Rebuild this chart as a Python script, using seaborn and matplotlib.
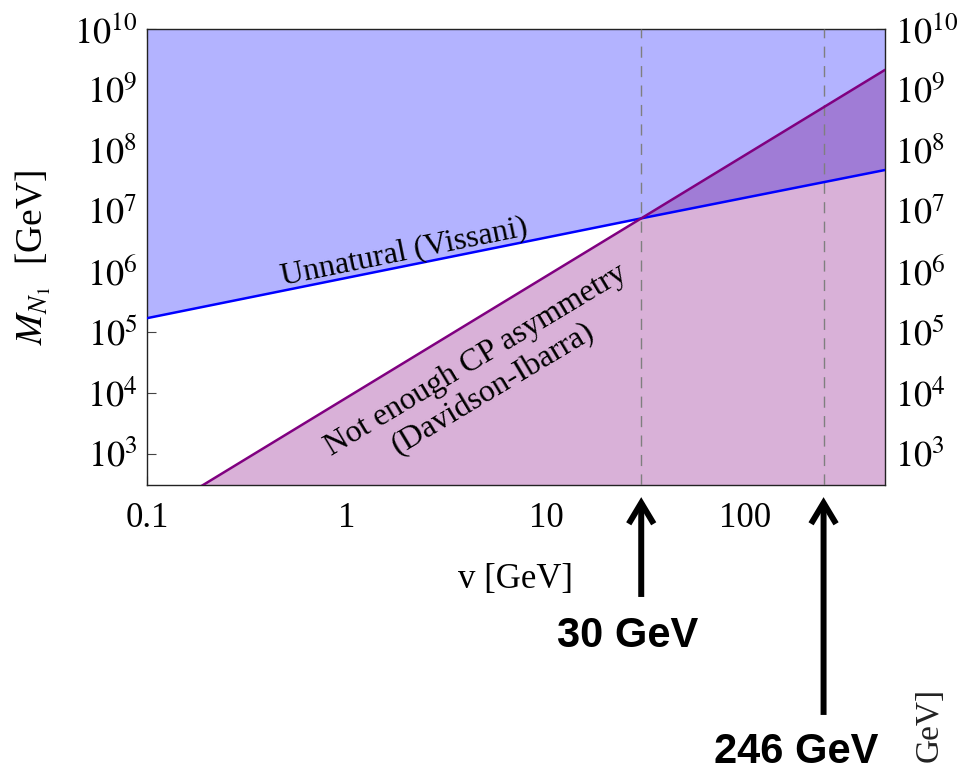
import matplotlib
matplotlib.use("Agg")
import matplotlib.pyplot as plt
import seaborn as sns
import pandas as pd

# Boundary lines (v in GeV, M_N1 in GeV), straight in log-log space
vissani_v = [0.1, 30.0, 500.0]
vissani_M = [1.7e5, 7.5e6, 4.7e7]
di_v = [0.1, 30.0, 500.0]
di_M = [83.0, 7.5e6, 2.1e9]

# Reference scales marked on the plot
marked_v = [30.0, 246.0]
marked_labels = ["30 GeV", "246 GeV"]

# Axis ticks
x_ticks = [0.1, 1, 10, 100]
x_ticklabels = ["0.1", "1", "10", "100"]
y_exponents = [3, 4, 5, 6, 7, 8, 9, 10]

x_limits = (0.1, 500.0)
y_limits = (300.0, 1e10)

blue_fill = "#B3B3FF"
pink_fill = "#D9B1D8"
overlap_fill = "#A07CD6"
blue_line = "#0000FF"
purple_line = "#800080"

sns.set_theme(style="ticks")
plt.rcParams["font.family"] = ["Liberation Serif", "DejaVu Serif"]
plt.rcParams["mathtext.fontset"] = "stix"
plt.rcParams["text.color"] = "black"
plt.rcParams["axes.labelcolor"] = "black"

fig = plt.figure(figsize=(9.6, 7.72), dpi=100)
ax = fig.add_axes([0.1531, 0.3714, 0.7688, 0.5914])
ax.set_xscale("log")
ax.set_yscale("log")

# Shaded exclusion regions
ax.fill_between(di_v, 1.0, di_M, color=pink_fill, lw=0, zorder=1)
ax.fill_between(vissani_v, vissani_M, 1e11, color=blue_fill, lw=0, zorder=1)
ax.fill_between(vissani_v[1:], vissani_M[1:], di_M[1:], color=overlap_fill,
                lw=0, zorder=2)

lines = pd.DataFrame({
    "v": vissani_v + di_v,
    "M": vissani_M + di_M,
    "bound": ["Vissani"] * len(vissani_v) + ["Davidson-Ibarra"] * len(di_v),
})
sns.lineplot(data=lines, x="v", y="M", hue="bound",
             palette={"Vissani": blue_line, "Davidson-Ibarra": purple_line},
             lw=1.8, legend=False, ax=ax, zorder=4)

for v in marked_v:
    ax.axvline(v, color="#7f7f7f", lw=1.0, ls=(0, (8, 6)), zorder=3)

ax.set_xlim(*x_limits)
ax.set_ylim(*y_limits)

ax.set_xticks(x_ticks)
ax.set_xticklabels(x_ticklabels)
ax.set_yticks([10.0 ** e for e in y_exponents])
ax.set_yticklabels([rf"$10^{{{e}}}$" for e in y_exponents])
ax.yaxis.set_minor_locator(matplotlib.ticker.NullLocator())

ax.tick_params(axis="both", which="major", direction="in", length=6.5,
               width=0.8, color="#444444", labelcolor="black", labelsize=26,
               top=True, right=True)
ax.tick_params(axis="x", which="major", pad=12, labelsize=25)
ax.tick_params(axis="y", which="major", pad=7, labelright=True)
ax.tick_params(axis="x", which="minor", direction="in", length=3, width=0.7,
               color="#444444", top=True, bottom=True)
for side in ax.spines.values():
    side.set_color("#222222")
    side.set_linewidth(1.0)
ax.grid(False)

ax.set_xlabel("v [GeV]", fontsize=25)
ax.xaxis.set_label_coords(0.5, -0.17)
ax.set_ylabel(r"$M_{N_1}$  [GeV]", fontsize=27)
ax.yaxis.set_label_coords(-0.128, 0.5)

ax.text(1.94, 2.1e6, "Unnatural (Vissani)", fontsize=23, rotation=11.5,
        rotation_mode="anchor", ha="center", va="center", zorder=5)
ax.text(4.9, 2.0e4, "Not enough CP asymmetry\n(Davidson-Ibarra)", fontsize=23,
        rotation=31, rotation_mode="anchor", ha="center", va="center",
        multialignment="center", linespacing=1.2, zorder=5)

# Arrows and bold labels below the axis
tails = [-0.2446, -0.503]
label_pos = [(628, 636), (796, 752)]
for v, tail, text, (px, py) in zip(marked_v, tails, marked_labels, label_pos):
    ax.annotate("", xy=(v, -0.026), xytext=(v, tail),
                xycoords=("data", "axes fraction"),
                textcoords=("data", "axes fraction"),
                arrowprops=dict(arrowstyle="->,head_length=0.75,head_width=0.45",
                                mutation_scale=20, color="black", lw=4.3,
                                shrinkA=0, shrinkB=0, capstyle="butt",
                                joinstyle="miter"),
                annotation_clip=False)
    fig.text(px / 960, 1 - py / 772, text, fontsize=30, fontweight="bold",
             family=["Liberation Sans", "DejaVu Sans"], ha="center", va="center")

fig.text(929 / 960, 1 - 688 / 772, "GeV]", fontsize=24, rotation=90,
         ha="center", va="top", color="#222222")

fig.savefig("out.png", dpi=100)
